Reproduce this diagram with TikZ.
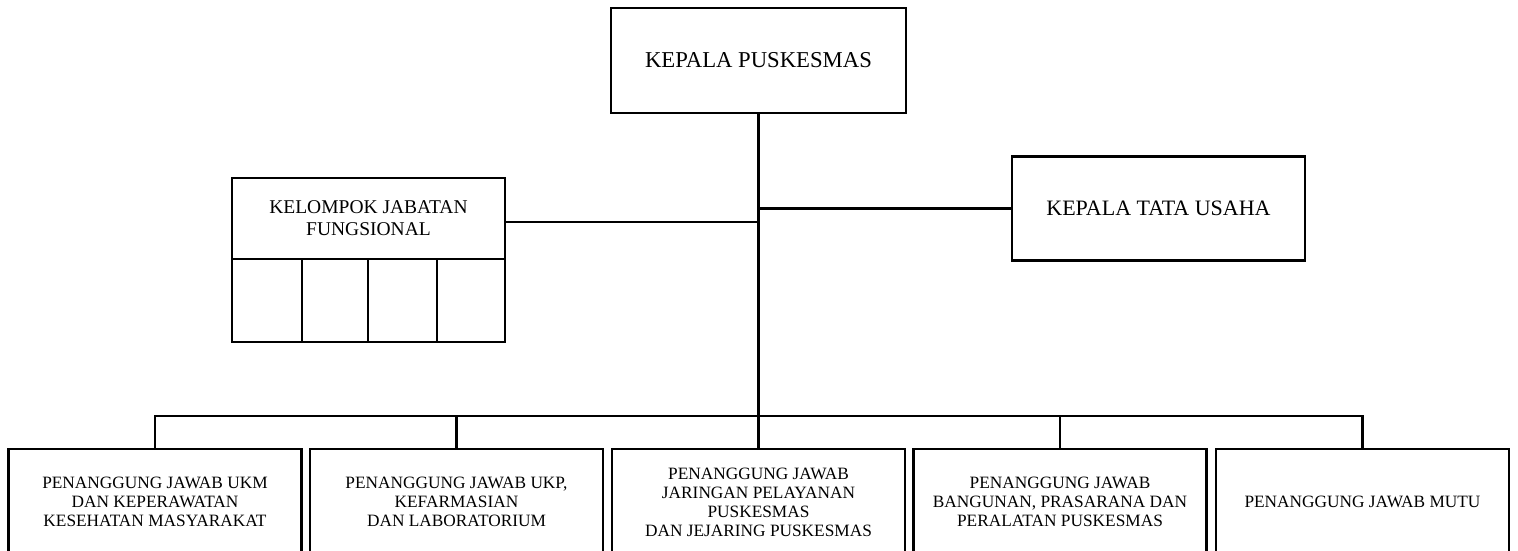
\documentclass[tikz,border=0pt]{standalone}
\usepackage{fontspec}
\setmainfont{Liberation Serif}
\begin{document}
\begin{tikzpicture}[x=1pt,y=-1pt,
  box/.style={draw,line width=2.6pt,inner sep=0pt,align=center},
  conn/.style={line width=2.6pt},
  bottombox/.style={box,minimum width=293pt,minimum height=106pt,font=\fontsize{17.3}{19}\selectfont},
  cell/.style={box,minimum height=83pt}]
\useasboundingbox (0,0) rectangle (1518,551);
\clip (0,0) rectangle (1518,551);
% top
\node[box,minimum width=295pt,minimum height=105pt,font=\fontsize{22.7}{26}\selectfont] (kp) at (758.5,60.5) {KEPALA PUSKESMAS};
% functional group
\node[box,minimum width=273pt,minimum height=81pt,font=\fontsize{19.5}{22}\selectfont] (kjf) at (368.5,218.5) {KELOMPOK JABATAN\\FUNGSIONAL};
\node[cell,minimum width=70pt] (c1) at (267,300.5) {};
\node[cell,minimum width=66pt] (c2) at (335,300.5) {};
\node[cell,minimum width=69pt] (c3) at (402.5,300.5) {};
\node[cell,minimum width=68pt] (c4) at (471,300.5) {};
% admin
\node[box,minimum width=293pt,minimum height=104pt,font=\fontsize{22}{26}\selectfont] (ktu) at (1158.5,208.5) {KEPALA TATA USAHA};
% bottom row
\node[bottombox] (b1) at (155,502) {PENANGGUNG JAWAB UKM\\DAN KEPERAWATAN\\KESEHATAN MASYARAKAT};
\node[bottombox] (b2) at (456.5,502) {PENANGGUNG JAWAB UKP,\\KEFARMASIAN\\DAN LABORATORIUM};
\node[bottombox] (b3) at (758.5,502) {PENANGGUNG JAWAB\\JARINGAN PELAYANAN\\PUSKESMAS\\DAN JEJARING PUSKESMAS};
\node[bottombox] (b4) at (1060,502) {PENANGGUNG JAWAB\\BANGUNAN, PRASARANA DAN\\PERALATAN PUSKESMAS};
\node[bottombox] (b5) at (1362.5,502) {PENANGGUNG JAWAB MUTU};
\coordinate (bus) at (758.5,416);
% connectors
\draw[conn] (kp.south) -- (b3.north);
\draw[conn] ([yshift=-3.5pt]kjf.east) -- ([yshift=-3.5pt]kjf.east -| kp.south);
\draw[conn] (ktu.west) -- (ktu.west -| kp.south);
\draw[conn] (b1.north) |- (bus) -| (b5.north);
\draw[conn] (b2.north) -- (b2.north |- bus);
\draw[conn] (b4.north) -- (b4.north |- bus);
\end{tikzpicture}
\end{document}
